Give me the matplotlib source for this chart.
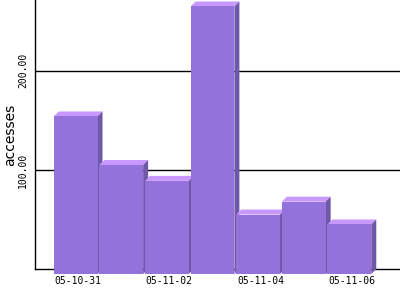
import matplotlib
matplotlib.use("Agg")
import matplotlib.pyplot as plt
from matplotlib.patches import Polygon, Rectangle

dates = ["05-10-31", "05-11-01", "05-11-02", "05-11-03", "05-11-04", "05-11-05", "05-11-06"]
accesses = [159, 110, 94, 270, 60, 73, 50]
y_ticks = [100, 200]
y_tick_labels = ["100.00", "200.00"]

front_color = "#9472DB"
top_color = "#C898FF"
side_color = "#7058A8"

W, H = 400, 300
fig = plt.figure(figsize=(W / 100, H / 100), dpi=100)
ax_l, ax_b, ax_w, ax_h = 35, 31, 365, 269
ax = fig.add_axes([ax_l / W, ax_b / H, ax_w / W, ax_h / H])
xlim = (-1.0, 7.0)
ylim = (0, 271.5)
ax.set_xlim(*xlim)
ax.set_ylim(*ylim)

for s in ["top", "right"]:
    ax.spines[s].set_visible(False)
for s in ["left", "bottom"]:
    ax.spines[s].set_color("black")
    ax.spines[s].set_linewidth(1.0)
    ax.spines[s].set_zorder(1)

ax.set_axisbelow(True)
ax.yaxis.grid(True, color="black", linewidth=1.0, zorder=0.5)
ax.set_yticks(y_ticks)
ax.set_yticklabels(y_tick_labels, rotation=90, va="center",
                   fontfamily="DejaVu Sans Mono", fontsize=7)
ax.tick_params(axis="y", length=0, pad=5)

xt = list(range(0, len(dates), 2))
ax.set_xticks([i - 0.055 for i in xt])
ax.set_xticklabels([dates[i] for i in xt], fontfamily="DejaVu Sans Mono", fontsize=7)
ax.tick_params(axis="x", length=0, pad=5)

ax.set_ylabel("accesses", fontfamily="DejaVu Sans", fontsize=10, va="center")
ax.yaxis.set_label_coords(-0.0685, 0.5)

# 3D depth of 5 px, converted to data units
depth_px = 5
dx = depth_px * (xlim[1] - xlim[0]) / ax_w
dy = depth_px * (ylim[1] - ylim[0]) / ax_h

w = 0.96
for i, v in enumerate(accesses):
    x0, x1 = i - w / 2, i + w / 2
    z = 3 + i * 0.01
    top = Polygon([(x0, v), (x1, v), (x1 - dx, v - dy), (x0 - dx, v - dy)],
                  closed=True, facecolor=top_color, edgecolor="none",
                  zorder=z, clip_on=False)
    side = Polygon([(x1, v), (x1, 0), (x1 - dx, -dy), (x1 - dx, v - dy)],
                   closed=True, facecolor=side_color, edgecolor="none",
                   zorder=z, clip_on=False)
    front = Rectangle((x0 - dx, -dy), w, v, facecolor=front_color, edgecolor="none",
                      zorder=z + 0.005, clip_on=False)
    ax.add_patch(top)
    ax.add_patch(side)
    ax.add_patch(front)

fig.savefig("out.png", dpi=100)
